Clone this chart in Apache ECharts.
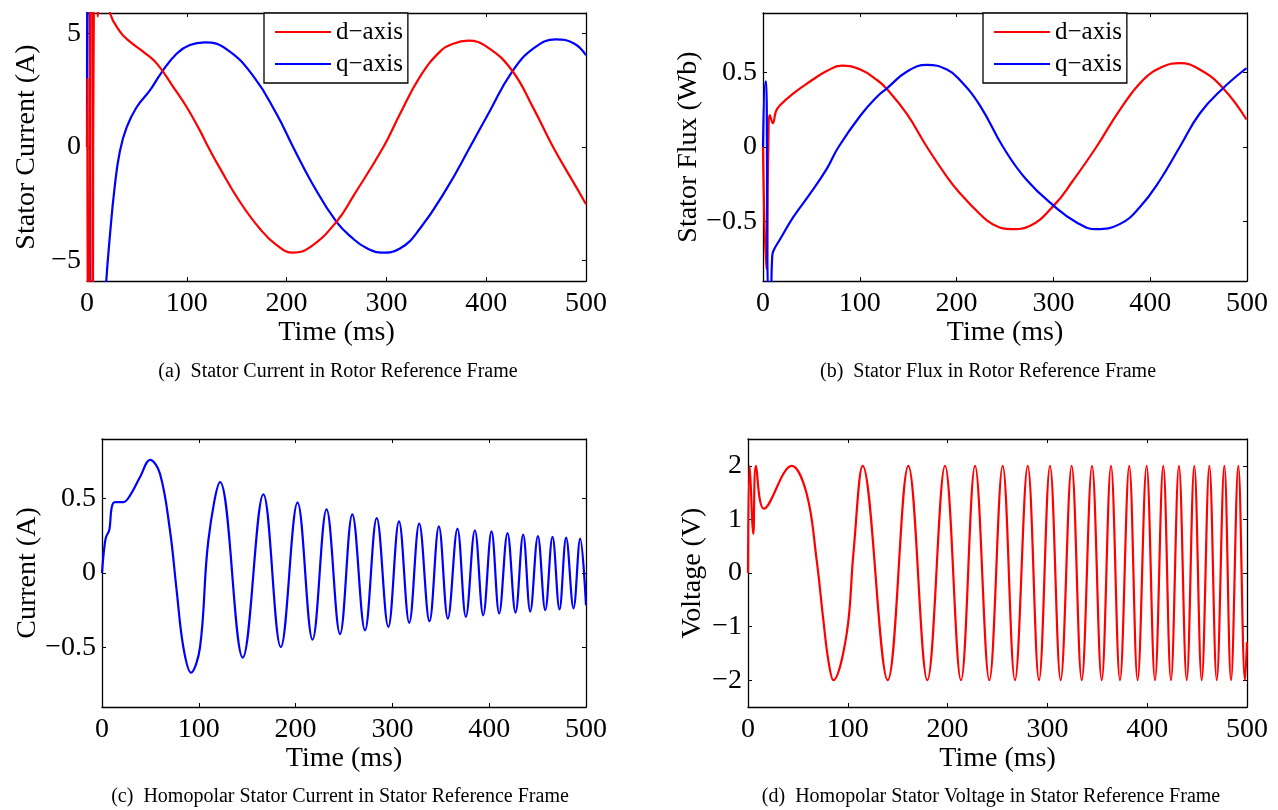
<!DOCTYPE html>
<html><head><meta charset="utf-8">
<script src="https://cdn.jsdelivr.net/npm/echarts@6/dist/echarts.min.js"></script>
<style>html,body{margin:0;padding:0;background:#fff}#c{width:1278px;height:810px}</style>
</head><body><div id="c"></div><script>
// ---------- data ----------
const timeTicks = [0, 100, 200, 300, 400, 500];
const yTicksA = [-5, 0, 5];
const yTicksB = [-0.5, 0, 0.5];
const yTicksC = [-0.5, 0, 0.5];
const yTicksD = [-2, -1, 0, 1, 2];
const legendNames = ['d\u2212axis', 'q\u2212axis'];
const yNames = ['Stator Current (A)', 'Stator Flux (Wb)', 'Current (A)', 'Voltage (V)'];
const xName = 'Time (ms)';
const captions = [
  '(a)  Stator Current in Rotor Reference Frame',
  '(b)  Stator Flux in Rotor Reference Frame',
  '(c)  Homopolar Stator Current in Stator Reference Frame',
  '(d)  Homopolar Stator Voltage in Stator Reference Frame'
];

// (a) stator current, d-axis (red) and q-axis (blue) [time ms, A]
const dCurrent = [[0,0],[0.4,3],[1.0,-9],[2.5,-9],[3.4,9],[5.2,9],[6.0,-9],[6.6,-9],[7.2,9],[9.5,7],[10.8,5.75],[12,7],[16,9],[20,7],[23,5.9],
  [33,5.08],[43,4.64],[56.5,4.19],[70,3.67],[86.5,2.64],[100,1.75],[113.3,0.71],[121.5,0],[133,-0.92],[153,-2.4],[173,-3.59],
  [190,-4.32],[206.5,-4.65],[224,-4.4],[250,-3.29],[267,-2.15],[297,0],[313.6,1.45],[333.7,3.1],[353.7,4.2],[367,4.55],[382,4.68],
  [400.7,4.41],[425.7,3.38],[447.4,1.7],[467,0],[490.8,-1.81],[500,-2.52]];
const qCurrent = [[0,0],[0.5,9],[2.6,9],[3.6,-9],[12,-12],[17,-8],[19,-6.1],[23,-3.88],[28,-1.66],[33,-0.18],[39.7,0.86],[49.7,1.75],
  [63,2.49],[75,3.3],[90,4.12],[103,4.49],[118,4.61],[140,4.3],[167,3.1],[190,1.45],[206.5,0],[225,-1.55],[250,-3.3],
  [267,-4.05],[280,-4.45],[295,-4.65],[313.6,-4.47],[333.7,-3.59],[360.7,-1.81],[383.8,0],[403.8,1.6],[425.7,3.3],[447.4,4.34],
  [469.9,4.74],[488,4.56],[500,4.04]];

// (b) stator flux [time ms, Wb]
const dFlux = [[0,0],[1.5,-0.5],[3.5,-0.82],[5.5,0],[7.1,0.214],[10.2,0.16],[13.4,0.24],[17.6,0.28],[31.4,0.36],[48.6,0.44],[65.8,0.51],
  [81.3,0.547],[100.5,0.52],[117.8,0.45],[128,0.39],[148.8,0.22],[169.4,0],[190,-0.2],[203.4,-0.31],[224,-0.45],[237.7,-0.52],
  [256.5,-0.552],[275.5,-0.53],[301.3,-0.387],[320.3,-0.225],[344.4,0],[368.5,0.248],[392.6,0.45],[413.3,0.54],[430.5,0.563],
  [451.2,0.52],[475.3,0.395],[499.5,0.185]];
const qFlux = [[0,0],[2.5,0.44],[3.3,0.44],[5.5,-1.0],[7.5,-1.0],[9.5,-0.74],[10.6,-0.70],[17.6,-0.62],[31.4,-0.47],[48.5,-0.315],
  [66,-0.145],[78,0],[100.5,0.21],[117.8,0.338],[128,0.394],[148.8,0.507],[169.4,0.552],[190,0.52],[203.4,0.45],[224,0.28],[248,0],
  [272.2,-0.22],[301.3,-0.40],[323.6,-0.505],[344.4,-0.552],[368.5,-0.518],[389.2,-0.405],[409.9,-0.225],[430.5,0],[451.2,0.225],
  [475.3,0.395],[499.5,0.53]];

// (c) homopolar stator current [time ms, A]
const zeroCurrent = [[0,0],[2,0.15],[4.1,0.24],[7.6,0.29],[10,0.44],[13.4,0.476],[22,0.476],[28.9,0.52],[39.3,0.645],[49.6,0.76],
  [59.9,0.667],[70.2,0.287],[77.1,-0.116],[84,-0.497],[92,-0.67],[101.3,-0.497],[109.9,0.22],[122,0.61],[145.4,-0.568],
  [166.7,0.528],[184.7,-0.497],[202,0.472],[217.5,-0.447],[232,0.427],[245.9,-0.41],[258.6,0.394],
  [271.7,-0.385],[283.8,0.369],[295.8,-0.362],[306.8,0.347],[317.4,-0.335],[327.7,0.331],[338.3,-0.324],[348,0.313],[357.3,-0.306],
  [367.2,0.298],[375.9,-0.295],[385.2,0.287],[393.8,-0.284],[402.4,0.28],[410.3,-0.272],[418.9,0.268],[427.2,-0.266],[435.1,0.258],
  [442.4,-0.259],[450.3,0.248],[457.9,-0.25],[465.4,0.242],[472.6,-0.244],[479.5,0.238],[487.1,-0.237],[494,0.231],[500,-0.217]];

// (d) homopolar stator voltage [time ms, V]
const zeroVoltage = [[0,0],[1.7,2],[5.3,0.73],[8,2],[16,1.2],[43.8,2],[58.8,1.48],[68.8,0.24],[75.5,-0.88],[80.5,-1.63],[85.5,-2],
  [98.9,-1.13],[105.6,0.36],[114.9,2],[140,-2],[160.6,2],[179.7,-2],[197.4,2],[213.4,-2],[227.5,2],[241.8,-2],[255.2,2],[267.5,-2],
  [280.3,2],[291.6,-2],[302.6,2],[313.3,-2],[324.3,2],[334.4,-2],[344.7,2],[354.4,-2],[363.7,2],[372.7,-2],[382,2],[390.4,-2],
  [399.4,2],[407.8,-2],[416.1,2],[423.8,-2],[431.8,2],[439.6,-2],[447.2,2],[454.6,-2],[462.3,2],[469.7,-2],[477.3,2],[484,-2],
  [491.3,2],[498,-2],[500,-1.29]];

// ---------- layout / style ----------
const F = 'Liberation Serif, Times New Roman, serif';
const RED = '#ff0000', BLUE = '#0000ff';
const grids = [
  {left: 87, top: 13, width: 499, height: 268},
  {left: 763, top: 13, width: 484, height: 268},
  {left: 102, top: 439, width: 484, height: 268},
  {left: 748, top: 439, width: 499, height: 268}
];
const yRanges = [[-5.9, 5.9], [-0.9, 0.9], [-0.9, 0.9], [-2.5, 2.5]];
const yTicks = [yTicksA, yTicksB, yTicksC, yTicksD];
const yNameGaps = [46, 56, 59, 41];
const fmt = v => (v < 0 ? '\u2212' + String(-v) : String(v));
const lineAx = {show: true, onZero: false, lineStyle: {color: '#000', width: 1.3}};
const tickSt = {inside: true, length: 4, lineStyle: {color: '#000', width: 1}};

const xAxis = [], yAxis = [];
for (let i = 0; i < 4; i++) {
  xAxis.push({type: 'value', gridIndex: i, min: timeTicks[0], max: timeTicks[timeTicks.length - 1], interval: 100, position: 'bottom',
    axisLine: lineAx, axisTick: tickSt, splitLine: {show: false},
    axisLabel: {fontSize: 28, fontFamily: F, color: '#000', margin: 9, formatter: fmt},
    name: xName, nameLocation: 'middle', nameGap: 38,
    nameTextStyle: {fontSize: 28, fontFamily: F, color: '#000'}});
  yAxis.push({type: 'value', gridIndex: i, min: yRanges[i][0], max: yRanges[i][1], position: 'left',
    axisLine: lineAx, axisTick: Object.assign({customValues: yTicks[i]}, tickSt), splitLine: {show: false},
    axisLabel: {customValues: yTicks[i], fontSize: 28, fontFamily: F, color: '#000', margin: 6, formatter: fmt},
    name: yNames[i], nameLocation: 'middle', nameGap: yNameGaps[i],
    nameTextStyle: {fontSize: 28, fontFamily: F, color: '#000'}});
}
for (let i = 0; i < 4; i++) {
  xAxis.push({type: 'value', gridIndex: i, min: 0, max: 500, interval: 100, position: 'top',
    axisLine: lineAx, axisTick: tickSt, splitLine: {show: false}, axisLabel: {show: false}});
  yAxis.push({type: 'value', gridIndex: i, min: yRanges[i][0], max: yRanges[i][1], position: 'right',
    axisLine: lineAx, axisTick: Object.assign({customValues: yTicks[i]}, tickSt), splitLine: {show: false},
    axisLabel: {show: false, customValues: yTicks[i]}});
}

function ser(name, idx, data, color, z, smooth) {
  return {type: 'line', name: name, xAxisIndex: idx, yAxisIndex: idx, data: data, symbol: 'none', showSymbol: false,
    smooth: smooth, clip: true, z: z, lineStyle: {color: color, width: 2.2}, itemStyle: {color: color}, animation: false};
}
const series = [
  ser(legendNames[1], 0, qCurrent, BLUE, 2, 0.45),
  ser(legendNames[0], 0, dCurrent, RED, 3, 0.45),
  ser(legendNames[0], 1, dFlux, RED, 2, 0.45),
  ser(legendNames[1], 1, qFlux, BLUE, 3, 0.45),
  ser('i0', 2, zeroCurrent, BLUE, 2, 0.38),
  ser('v0', 3, zeroVoltage, RED, 2, 0.38)
];

function legendAt(left) {
  return {show: true, orient: 'vertical', left: left, top: 13, data: legendNames,
    icon: 'rect', backgroundColor: '#fff', borderColor: '#000', borderWidth: 1.3, borderRadius: 0,
    padding: [6, 5, 6, 11], itemWidth: 56, itemHeight: 2.2, itemGap: 6, itemTextGap: 5,
    textStyle: {fontSize: 25, fontFamily: F, color: '#000', lineHeight: 26},
    selectedMode: false, z: 10};
}

const capPos = [[338, 372], [988, 372], [340, 797], [991, 797]];
const graphic = captions.map((t, i) => ({type: 'text', x: capPos[i][0], y: capPos[i][1],
  style: {text: t, fontSize: 20, fontFamily: F, fill: '#000', align: 'center', verticalAlign: 'middle'}}));

const chart = echarts.init(document.getElementById('c'), null, {renderer: 'canvas'});
chart.setOption({
  animation: false,
  backgroundColor: '#fff',
  grid: grids,
  xAxis: xAxis,
  yAxis: yAxis,
  legend: [legendAt(264), legendAt(983)],
  series: series,
  graphic: graphic
});
</script></body></html>
